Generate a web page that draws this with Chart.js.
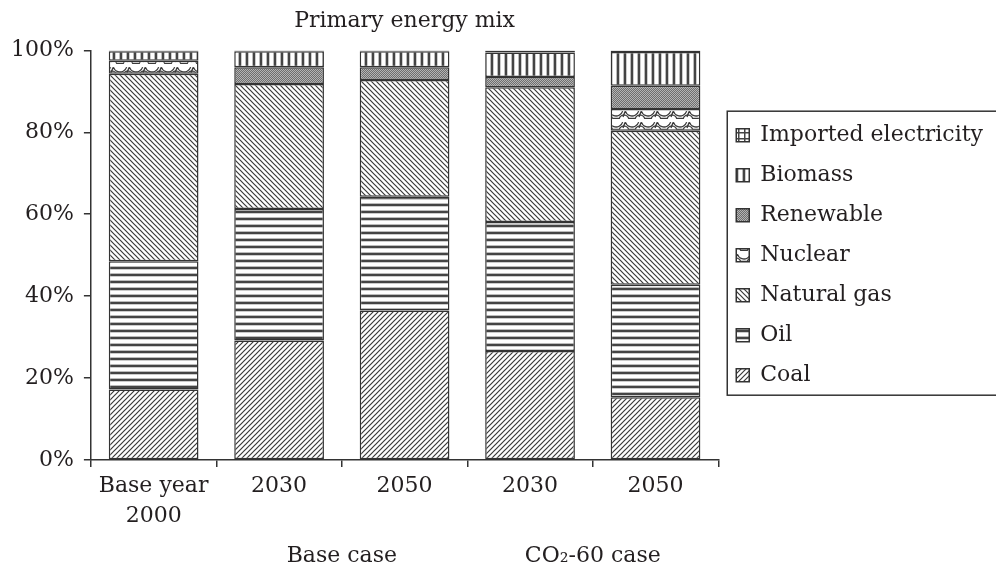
<!DOCTYPE html>
<html>
<head>
<meta charset="utf-8">
<script src="https://cdn.jsdelivr.net/npm/chart.js@4"></script>
<style>
  html, body { margin: 0; padding: 0; background: #fff; }
  #wrap { width: 996px; height: 571px; }
</style>
</head>
<body>
<div id="wrap"><canvas id="mix" width="996" height="571"></canvas></div>
<script>
// categories (x axis) and the two scenario groups under them
const categories = [['Base year', '2000'], '2030', '2050', '2030', '2050'];
const groups = [
	{ label: 'Base case', from: 1, to: 2 },
	{ label: 'CO\u2082-60 case', from: 3, to: 4 }
];

// share of primary energy, %
const coal      = [17.2, 29.2, 36.5, 26.6, 15.3];
const oil       = [31.3, 32.1, 27.8, 31.5, 27.5];
const naturalGas= [45.8, 30.5, 28.5, 32.9, 37.6];
const nuclear   = [3.2, 0, 0, 0, 5.3];
const renewable = [0, 4.1, 3.1, 2.5, 5.7];
const biomass   = [2.3, 3.9, 3.9, 6.0, 8.2];
const imported  = [0.2, 0.2, 0.2, 0.5, 0.4];

const yTicks = [0, 20, 40, 60, 80, 100];

// hatch patterns, black & white like the print
const makePattern = (kind) => {
	const c = document.createElement('canvas');
	const ctx = c.getContext('2d');
	const ink = '#3a3a3a';
	if (kind === 'coal' || kind === 'gas') {
		c.width = c.height = 5;
		ctx.fillStyle = '#fff';
		ctx.fillRect(0, 0, 5, 5);
		ctx.strokeStyle = ink;
		ctx.lineWidth = 1.2;
		ctx.beginPath();
		if (kind === 'coal') {
			ctx.moveTo(0, 5); ctx.lineTo(5, 0);
			ctx.moveTo(-1, 1); ctx.lineTo(1, -1);
			ctx.moveTo(4, 6); ctx.lineTo(6, 4);
		} else {
			ctx.moveTo(0, 0); ctx.lineTo(5, 5);
			ctx.moveTo(-1, 4); ctx.lineTo(1, 6);
			ctx.moveTo(4, -1); ctx.lineTo(6, 1);
		}
		ctx.stroke();
	} else if (kind === 'oil') {
		c.width = 4; c.height = 7;
		ctx.fillStyle = '#fff'; ctx.fillRect(0, 0, 4, 7);
		ctx.fillStyle = '#bbb'; ctx.fillRect(0, 0, 4, 1);
		ctx.fillStyle = '#444'; ctx.fillRect(0, 1, 4, 2);
		ctx.fillStyle = '#ccc'; ctx.fillRect(0, 3, 4, 1);
	} else if (kind === 'biomass') {
		c.width = 7; c.height = 4;
		ctx.fillStyle = '#fff'; ctx.fillRect(0, 0, 7, 4);
		ctx.fillStyle = '#bbb'; ctx.fillRect(0, 0, 1, 4);
		ctx.fillStyle = '#444'; ctx.fillRect(1, 0, 2, 4);
		ctx.fillStyle = '#ccc'; ctx.fillRect(3, 0, 1, 4);
	} else if (kind === 'imported') {
		c.width = c.height = 6;
		ctx.fillStyle = '#fff'; ctx.fillRect(0, 0, 6, 6);
		ctx.fillStyle = '#444';
		ctx.fillRect(0, 0, 6, 1.5);
		ctx.fillRect(0, 0, 1.5, 6);
	} else if (kind === 'renewable') {
		c.width = c.height = 2;
		ctx.fillStyle = '#6e6e6e'; ctx.fillRect(0, 0, 2, 2);
		ctx.fillStyle = '#b4b4b4'; ctx.fillRect(0, 0, 1, 1); ctx.fillRect(1, 1, 1, 1);
	} else if (kind === 'nuclear') {
		// rough take on the wavy "brick" fill
		c.width = 16; c.height = 11;
		ctx.fillStyle = '#fff'; ctx.fillRect(0, 0, 16, 11);
		ctx.strokeStyle = ink;
		ctx.lineWidth = 1.3;
		ctx.beginPath();
		ctx.arc(8, -1, 7, 0.1 * Math.PI, 0.9 * Math.PI);
		ctx.moveTo(1, 1.5); ctx.lineTo(-1, 7);
		ctx.moveTo(17, 1.5); ctx.lineTo(15, 7);
		ctx.stroke();
		ctx.beginPath();
		ctx.arc(0, 10, 5, 1.1 * Math.PI, 1.9 * Math.PI, false);
		ctx.arc(16, 10, 5, 1.1 * Math.PI, 1.9 * Math.PI, false);
		ctx.stroke();
	}
	return ctx.createPattern(c, 'repeat');
};

const series = [
	{ label: 'Coal', data: coal, kind: 'coal' },
	{ label: 'Oil', data: oil, kind: 'oil' },
	{ label: 'Natural gas', data: naturalGas, kind: 'gas' },
	{ label: 'Nuclear', data: nuclear, kind: 'nuclear' },
	{ label: 'Renewable', data: renewable, kind: 'renewable' },
	{ label: 'Biomass', data: biomass, kind: 'biomass' },
	{ label: 'Imported electricity', data: imported, kind: 'imported' }
];

const textColor = '#231f20';
const lineColor = '#333';

Chart.defaults.font.family = "'DejaVu Serif', serif";
Chart.defaults.font.size = 22;
Chart.defaults.color = textColor;

// frame round the legend + the scenario labels under the axis
const extras = {
	id: 'extras',
	afterDraw(chart) {
		const ctx = chart.ctx;
		const lg = chart.legend;
		const boxes = lg.legendHitBoxes;
		if (boxes && boxes.length) {
			const first = boxes[0];
			const last = boxes[boxes.length - 1];
			const top = first.top + first.height / 2 - 24;
			const bottom = last.top + last.height / 2 + 20;
			ctx.save();
			ctx.strokeStyle = lineColor;
			ctx.lineWidth = 1.5;
			ctx.strokeRect(first.left - 9, top, chart.width, bottom - top);
			ctx.restore();
		}
		const x = chart.scales.x;
		ctx.save();
		ctx.fillStyle = textColor;
		ctx.font = "22px 'DejaVu Serif', serif";
		ctx.textAlign = 'center';
		ctx.textBaseline = 'middle';
		groups.forEach(g => {
			const cx = (x.getPixelForValue(g.from) + x.getPixelForValue(g.to)) / 2;
			ctx.fillText(g.label, cx, 556);
		});
		ctx.restore();
	}
};

new Chart(
	document.getElementById('mix'),
	{
		type: 'bar',
		data: {
			labels: categories,
			datasets: series.map(s => ({
				label: s.label,
				data: s.data,
				backgroundColor: makePattern(s.kind),
				borderColor: lineColor,
				borderWidth: 1.5,
				borderSkipped: false,
				barPercentage: 0.715,
				categoryPercentage: 1
			}))
		},
		options: {
			responsive: false,
			animation: false,
			layout: {
				padding: { left: 1, right: 3, top: 0, bottom: 36 }
			},
			plugins: {
				title: {
					display: true,
					text: 'Primary energy mix',
					fullSize: false,
					color: textColor,
					font: { size: 22, weight: 'normal', lineHeight: 1.2 },
					padding: { top: 8, bottom: 16 }
				},
				legend: {
					position: 'right',
					fullSize: false,
					reverse: true,
					maxWidth: 320,
					labels: {
						boxWidth: 13,
						boxHeight: 13,
						padding: 18,
						color: textColor,
						font: { size: 22 }
					}
				},
				tooltip: { enabled: false }
			},
			scales: {
				x: {
					stacked: true,
					offset: true,
					border: { color: lineColor, width: 1.5 },
					grid: {
						offset: true,
						drawOnChartArea: false,
						drawTicks: true,
						tickLength: 7,
						color: lineColor,
						lineWidth: 1.5
					},
					ticks: {
						autoSkip: false,
						maxRotation: 0,
						padding: 4,
						color: textColor,
						font: { size: 22, lineHeight: 30 / 22 }
					}
				},
				y: {
					stacked: true,
					min: 0,
					max: 100,
					afterBuildTicks: axis => {
						axis.ticks = yTicks.map(v => ({ value: v }));
					},
					border: { color: lineColor, width: 1.5 },
					grid: {
						drawOnChartArea: false,
						drawTicks: true,
						tickLength: 7,
						color: lineColor,
						lineWidth: 1.5
					},
					ticks: {
						padding: 10,
						color: textColor,
						callback: v => v + '%'
					}
				}
			}
		},
		plugins: [extras]
	}
);
</script>
</body>
</html>
